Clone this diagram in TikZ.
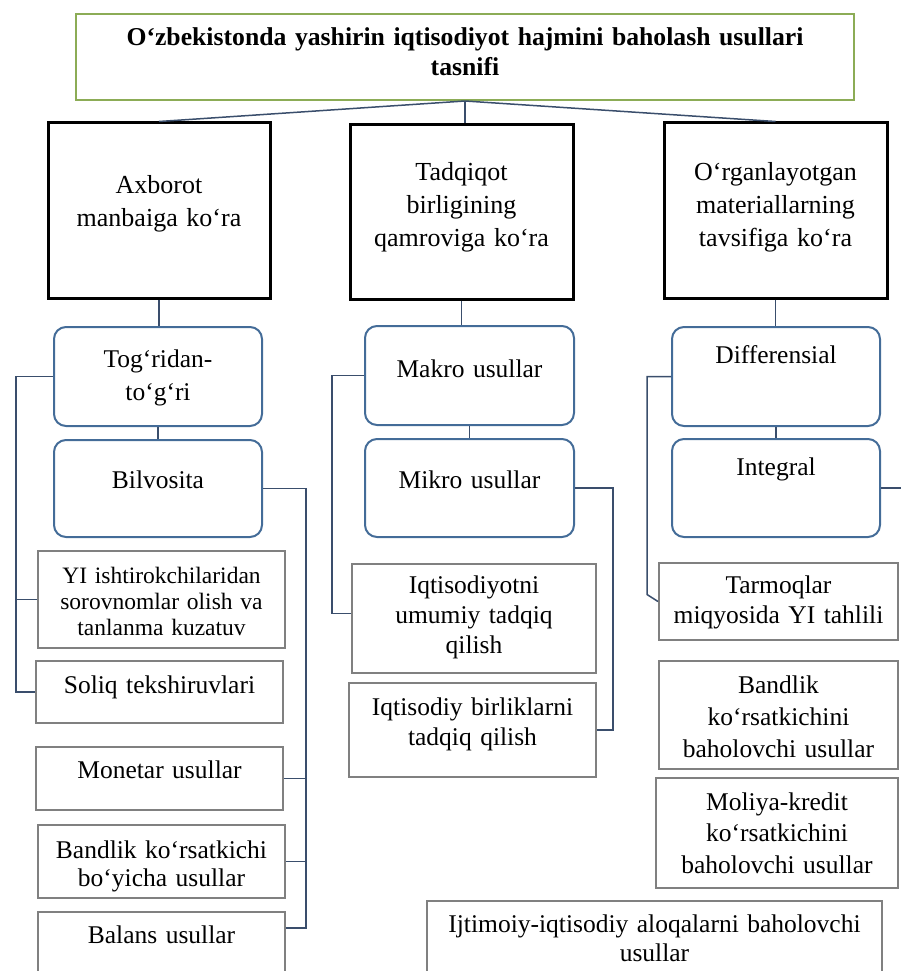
\documentclass[tikz,border=0pt]{standalone}
\usepackage{fontspec}
\setmainfont{Liberation Serif}

\definecolor{titlegreen}{RGB}{140,172,86}
\definecolor{linkblue}{RGB}{58,78,108}
\definecolor{roundblue}{RGB}{68,108,152}
\definecolor{boxgray}{RGB}{128,128,128}

\begin{document}
\begin{tikzpicture}[x=1pt, y=-1pt,
  every node/.style={align=center, inner xsep=0pt, inner ysep=0pt},
  tb/.style 2 args={text height=#1pt, text depth=#2pt},
  head/.style={draw=titlegreen, line width=2pt, font=\bfseries\fontsize{25.7}{30}\selectfont},
  kind/.style={draw=black, line width=3pt, font=\fontsize{26}{33}\selectfont},
  way/.style={draw=roundblue, line width=2pt, rounded corners=12pt, font=\fontsize{25.5}{33}\selectfont},
  meth/.style={draw=boxgray, line width=2pt, font=\fontsize{25.5}{30}\selectfont},
  link/.style={draw=linkblue, line width=1.5pt}]

  \useasboundingbox (0,0) rectangle (901,971);
  \clip (0,0) rectangle (901,971);

  % title
  \node[head, text width=778pt, tb={32}{54}] (title) at (465,57)
    {O‘zbekistonda yashirin iqtisodiyot hajmini baholash usullari\\ tasnifi};

  % three criteria
  \node[kind, text width=222pt, tb={70}{105}] (axb) at (159,210.5) {Axborot\\ manbaiga ko‘ra};
  \node[kind, text width=223pt, tb={55}{119}] (tad) at (461.5,212) {Tadqiqot\\ birligining\\ qamroviga ko‘ra};
  \node[kind, text width=223pt, tb={57}{118}] (org) at (775.5,210.5) {O‘rganlayotgan\\ materiallarning\\ tavsifiga ko‘ra};

  % groups
  \node[way, text width=208pt, tb={40}{59}] (tog) at (158,376.5) {Tog‘ridan-\\ to‘g‘ri};
  \node[way, text width=208pt, tb={48}{49}] (bil) at (158,488.5) {Bilvosita};
  \node[way, text width=209pt, tb={51}{48}] (mak) at (469.5,375.5) {Makro usullar};
  \node[way, text width=209pt, tb={49}{49}] (mik) at (469.5,488) {Mikro usullar};
  \node[way, text width=208pt, tb={36}{63}] (dif) at (776,376.5) {Differensial};
  \node[way, text width=208pt, tb={36}{62}] (int) at (776,488) {Integral};

  % methods
  \node[meth, text width=247pt, tb={32}{65}, font=\fontsize{23.5}{26}\selectfont] (yi) at (161.5,599.5)
    {YI ishtirokchilaridan\\ sorovnomlar olish va\\ tanlanma kuzatuv};
  \node[meth, text width=247pt, tb={32}{30}] (sol) at (159.5,692) {Soliq tekshiruvlari};
  \node[meth, text width=247pt, tb={31}{32}] (mon) at (159.5,778.5) {Monetar usullar};
  \node[meth, text width=247pt, tb={33}{40}, font=\fontsize{25.5}{28}\selectfont] (ban) at (161.5,861.5)
    {Bandlik ko‘rsatkichi\\ bo‘yicha usullar};
  \node[meth, text width=247pt, tb={31}{47}] (bal) at (161.5,951) {Balans usullar};
  \node[meth, text width=244pt, tb={29}{80}] (iqu) at (474,618.5) {Iqtisodiyotni\\ umumiy tadqiq\\ qilish};
  \node[meth, text width=247pt, tb={32}{62}] (iqb) at (472.5,730) {Iqtisodiy birliklarni\\ tadqiq qilish};
  \node[meth, text width=239pt, tb={30}{47}] (tar) at (778.5,601.5) {Tarmoqlar\\ miqyosida YI tahlili};
  \node[meth, text width=239pt, tb={32}{76}, font=\fontsize{25.5}{32}\selectfont] (bnd) at (778.5,715)
    {Bandlik\\ ko‘rsatkichini\\ baholovchi usullar};
  \node[meth, text width=242pt, tb={32}{78}, font=\fontsize{25.5}{31.5}\selectfont] (mol) at (777,833)
    {Moliya-kredit\\ ko‘rsatkichini\\ baholovchi usullar};
  \node[meth, text width=455pt, tb={31}{59}, font=\fontsize{25.5}{29}\selectfont] (ijt) at (654.5,946)
    {Ijtimoiy-iqtisodiy aloqalarni baholovchi\\ usullar};

  % bus lines
  \coordinate (lbus) at (16,0);
  \coordinate (rbus) at (306,0);
  \coordinate (mbus) at (332,0);
  \coordinate (mrbus) at (613,0);
  \coordinate (dbus) at (647,0);
  \coordinate (iend) at (905,488);

  \draw[link] (title.south) -- (axb.north);
  \draw[link] (title.south) -- (title.south |- tad.north);
  \draw[link] (title.south) -- (org.north);

  \draw[link] (axb.south) -- (axb.south |- tog.north);
  \draw[link] (tog.south) -- (bil.north);
  \draw[link] (tad.south) -- (tad.south |- mak.north);
  \draw[link] (mak.south) -- (mik.north);
  \draw[link] (org.south) -- (org.south |- dif.north);
  \draw[link] (dif.south) -- (int.north);

  \draw[link] (tog.west) -- (tog.west -| lbus) |- (sol.west);
  \draw[link] (lbus |- yi.west) -- (yi.west);
  \draw[link] (bil.east) -- (bil.east -| rbus) |- ([yshift=-17pt]bal.north east);
  \draw[link] (rbus |- mon.east) -- (mon.east);
  \draw[link] (rbus |- ban.east) -- (ban.east);
  \draw[link] (mak.west) -- (mak.west -| mbus) |- ([yshift=5pt]iqu.west);
  \draw[link] (mik.east) -- (mik.east -| mrbus) |- (iqb.east);
  \draw[link] (dif.west) -- (dif.west -| dbus) -- ++(0,218) -- (tar.west);
  \draw[link] (int.east) -- (iend);
\end{tikzpicture}
\end{document}
